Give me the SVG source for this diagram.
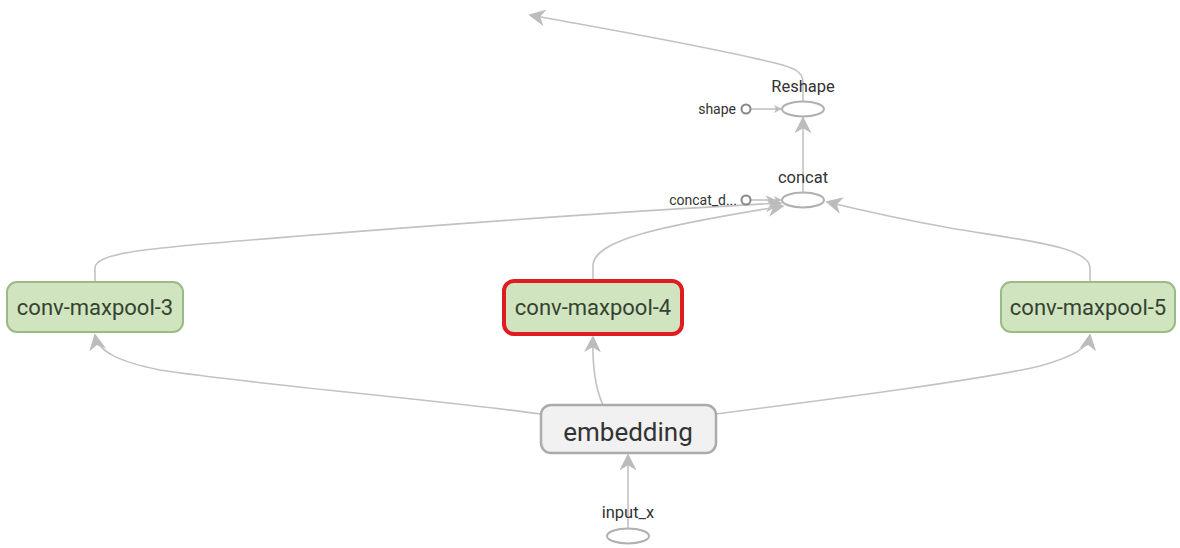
<svg xmlns="http://www.w3.org/2000/svg" width="1180" height="548" viewBox="0 0 1180 548">
  <defs>
    <marker id="arrow" viewBox="0 0 10 10" refX="9" refY="5" markerWidth="8" markerHeight="8" orient="auto" markerUnits="userSpaceOnUse">
      <path d="M0,0 L10,5 L0,10 L3,5 z" fill="#bcbcbc"/>
    </marker>
    <marker id="arrowBig" viewBox="0 0 10 10" refX="9" refY="5" markerWidth="17" markerHeight="17" orient="auto" markerUnits="userSpaceOnUse">
      <path d="M0,0 L10,5 L0,10 L3,5 z" fill="#bcbcbc"/>
    </marker>
    <style>
      .edge { fill: none; stroke: #c2c2c2; stroke-width: 1.6; }
      .big { marker-end: url(#arrowBig); }
      .small { marker-end: url(#arrow); }
      .meta { fill: #d0e4bf; stroke: #9aba86; stroke-width: 2; }
      .sel { fill: #d0e4bf; stroke: #e01b22; stroke-width: 4; }
      .emb { fill: #f1f1f1; stroke: #ababab; stroke-width: 2.5; }
      .op { fill: #ffffff; stroke: #b0b0b0; stroke-width: 2; }
      .const { fill: #ffffff; stroke: #888888; stroke-width: 2; }
      text { font-family: Roboto, "Liberation Sans", sans-serif; fill: #333333; }
      .lbl { font-size: 22px; text-anchor: middle; fill: #354232; }
      .elbl { font-size: 26px; text-anchor: middle; }
      .olbl { font-size: 16.5px; text-anchor: middle; }
      .clbl { font-size: 14px; text-anchor: end; }
    </style>
  </defs>

  <g id="connectors">
    <!-- output of Reshape -->
    <path class="edge big" d="M803,101 L803,82 C803,72 795,68 775,63 C700,45 600,28 530,15"/>
    <!-- shape -> Reshape -->
    <path class="edge small" d="M751,109 L781,109"/>
    <!-- concat -> Reshape -->
    <path class="edge big" d="M803,193 L803,118"/>
    <!-- concat_dim -> concat -->
    <path class="edge small" d="M751,200 L781,200"/>
    <!-- conv-maxpool-3 -> concat -->
    <path class="edge big" d="M95,282 L95,268 C95,252 150,248 300,236 C450,224 650,210 781,203"/>
    <!-- conv-maxpool-4 -> concat -->
    <path class="edge big" d="M593,280 L593,266 C593,240 660,226 783,206"/>
    <!-- conv-maxpool-5 -> concat -->
    <path class="edge big" d="M1090,282 L1090,268 C1090,246 1020,240 950,228 C900,219 860,210 827,202"/>
    <!-- embedding -> conv-maxpool-3 -->
    <path class="edge big" d="M541,414 C420,398 250,384 160,370 C120,362 98,352 95,335"/>
    <!-- embedding -> conv-maxpool-4 -->
    <path class="edge big" d="M603,405 C596,390 592,370 593,337"/>
    <!-- embedding -> conv-maxpool-5 -->
    <path class="edge big" d="M716,414 C840,398 980,380 1040,366 C1075,356 1088,348 1090,335"/>
    <!-- input_x -> embedding -->
    <path class="edge big" d="M628,529 L628,455"/>
  </g>

  <g id="Reshape">
    <ellipse class="op" cx="803" cy="109" rx="21" ry="7.5"/>
    <text class="olbl" x="803" y="92">Reshape</text>
  </g>
  <g id="shape">
    <circle class="const" cx="746" cy="109" r="4.5"/>
    <text class="clbl" x="736" y="114">shape</text>
  </g>
  <g id="concat">
    <ellipse class="op" cx="803" cy="200" rx="21" ry="7.5"/>
    <text class="olbl" x="803" y="183">concat</text>
  </g>
  <g id="concat_dim">
    <circle class="const" cx="746" cy="200" r="4.5"/>
    <text class="clbl" x="737" y="205">concat_d...</text>
  </g>
  <g id="conv-maxpool-3">
    <rect class="meta" x="7" y="282" width="176" height="50" rx="10"/>
    <text class="lbl" x="95" y="315">conv-maxpool-3</text>
  </g>
  <g id="conv-maxpool-4">
    <rect class="sel" x="504" y="281" width="178" height="53" rx="10"/>
    <text class="lbl" x="593" y="315">conv-maxpool-4</text>
  </g>
  <g id="conv-maxpool-5">
    <rect class="meta" x="1001" y="282" width="174" height="50" rx="10"/>
    <text class="lbl" x="1088" y="315">conv-maxpool-5</text>
  </g>
  <g id="embedding">
    <rect class="emb" x="541" y="405" width="175" height="48" rx="10"/>
    <text class="elbl" x="628" y="441">embedding</text>
  </g>
  <g id="input_x">
    <ellipse class="op" cx="628" cy="536" rx="21" ry="7.5"/>
    <text class="olbl" x="628" y="518">input_x</text>
  </g>
</svg>
